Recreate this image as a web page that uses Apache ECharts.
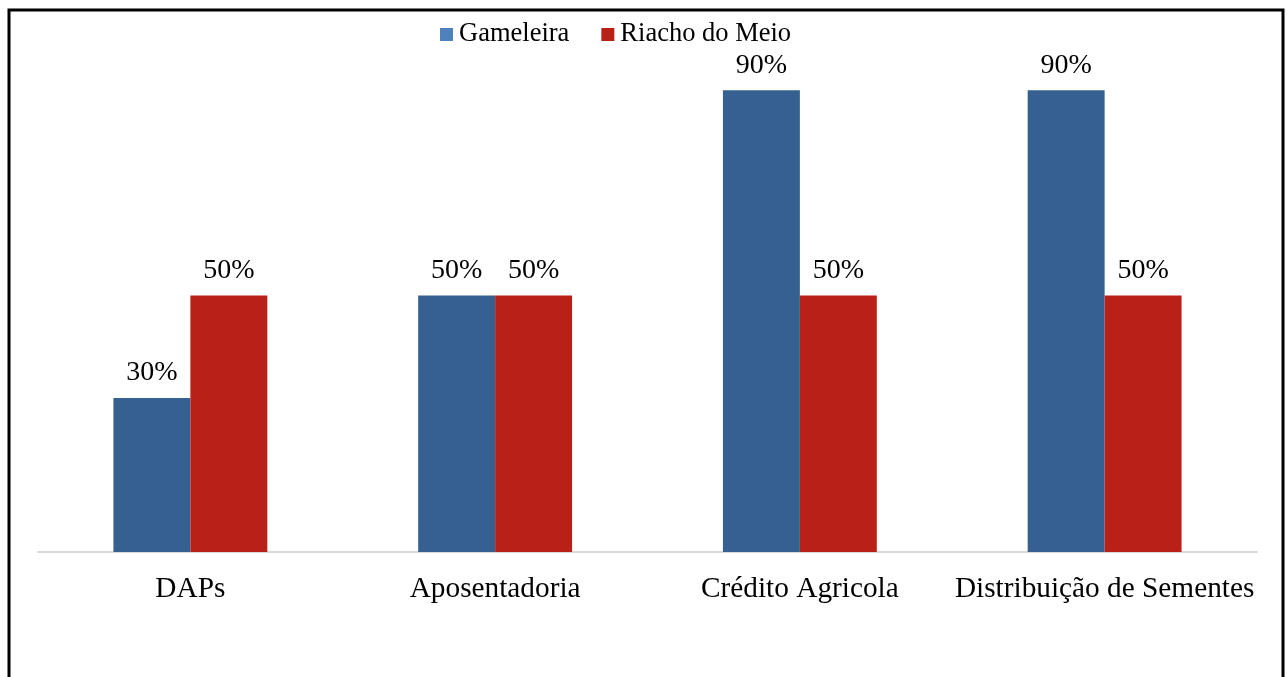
<!DOCTYPE html>
<html>
<head>
<meta charset="utf-8">
<script src="https://cdn.jsdelivr.net/npm/echarts@6/dist/echarts.min.js"></script>
<style>
html,body{margin:0;padding:0;background:#fff;}
#chart{width:1287px;height:677px;}
</style>
</head>
<body>
<div id="chart"></div>
<script>
const categories = ['DAPs', 'Aposentadoria', 'Crédito Agricola', 'Distribuição de Sementes'];
const gameleira = [30, 50, 90, 90];
const riachoDoMeio = [50, 50, 50, 50];
const seriesNames = ['Gameleira', 'Riacho do Meio'];

const FONT = '"Liberation Serif", "Times New Roman", serif';
const chart = echarts.init(document.getElementById('chart'));
const labelStyle = {
  show: true, position: 'top', distance: 11,
  formatter: p => p.value + '%',
  fontFamily: FONT, fontSize: 28, color: '#000'
};
chart.setOption({
  animation: false,
  graphic: [{
    type: 'rect', silent: true,
    shape: { x: 9, y: 10, width: 1274, height: 680 },
    style: { fill: 'none', stroke: '#000', lineWidth: 3 }
  }],
  legend: {
    top: 16, left: 435,
    itemWidth: 13, itemHeight: 13, itemGap: 32,
    icon: 'rect',
    textStyle: { fontFamily: FONT, fontSize: 26.5, color: '#000', padding: [0, 0, 0, 1] },
    data: [
      { name: seriesNames[0], itemStyle: { color: '#4f81bd' } },
      { name: seriesNames[1], itemStyle: { color: '#b92018' } }
    ]
  },
  grid: { left: 38, right: 30, top: 39, bottom: 125 },
  xAxis: {
    type: 'category', data: categories,
    axisLine: { lineStyle: { color: '#d9d9d9', width: 2 } },
    axisTick: { show: false },
    axisLabel: { fontFamily: FONT, fontSize: 29.3, color: '#000', margin: 23, interval: 0 }
  },
  yAxis: {
    type: 'value', min: 0, max: 100, interval: 10,
    show: false
  },
  series: [
    { name: seriesNames[0], type: 'bar', data: gameleira, barGap: '0%', barCategoryGap: '49.5%',
      itemStyle: { color: '#35608f' }, label: labelStyle },
    { name: seriesNames[1], type: 'bar', data: riachoDoMeio,
      itemStyle: { color: '#b92018' }, label: labelStyle }
  ]
});
</script>
</body>
</html>
